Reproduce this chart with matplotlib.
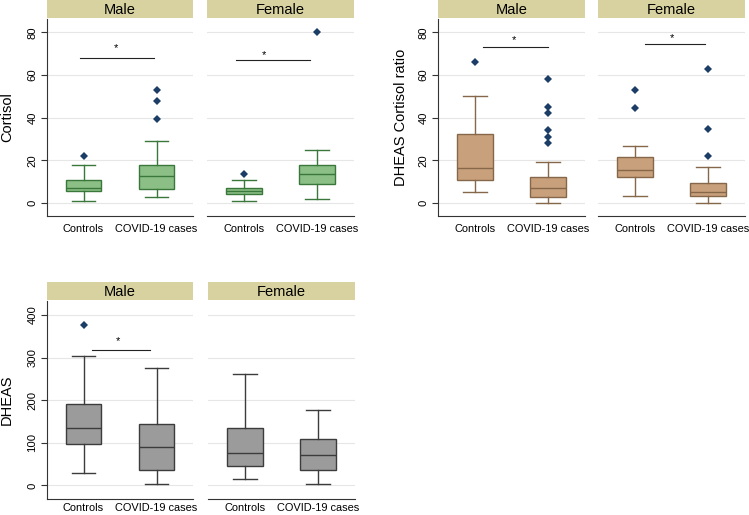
import matplotlib
matplotlib.use("Agg")
import matplotlib.pyplot as plt

plt.rcParams['font.family'] = ['Liberation Sans', 'DejaVu Sans']

groups = ["Controls", "COVID-19 cases"]
sexes = ["Male", "Female"]

# box stats: (whislo, q1, med, q3, whishi, outliers)
cortisol = {
    "Male": [(0.8, 5.6, 7.2, 10.6, 18.0, [22.2]),
             (2.8, 6.6, 12.5, 17.8, 29.1, [39.2, 47.7, 53.0])],
    "Female": [(0.8, 4.1, 5.5, 6.9, 10.6, [13.4]),
               (1.9, 9.1, 13.4, 17.8, 24.8, [80.0])],
}
ratio = {
    "Male": [(5.0, 10.8, 16.6, 32.3, 50.3, [65.9]),
             (0.0, 2.8, 6.9, 12.3, 19.4, [28.0, 31.1, 34.1, 42.0, 45.2, 58.0])],
    "Female": [(3.1, 12.0, 15.5, 21.6, 26.6, [44.7, 53.0]),
               (0.0, 3.1, 5.3, 9.5, 17.0, [22.2, 34.7, 62.7])],
}
dheas = {
    "Male": [(28, 97.5, 134, 192, 304, [376]),
             (2.3, 36, 90.4, 143.5, 275, [])],
    "Female": [(14.8, 46, 77.2, 134, 260.4, []),
               (2.3, 36, 71.7, 110, 177, [])],
}
# significance bars: (x0, x1, y, star x, star y)
sig_cortisol = {"Male": (0.95, 1.96, 67.8, 1.45, 72.5),
                "Female": (0.9, 1.9, 67.3, 1.28, 69.5)}
sig_ratio = {"Male": (1.11, 2.0, 73.3, 1.53, 76.5),
             "Female": (1.14, 1.96, 74.7, 1.5, 77.5)}
sig_dheas = {"Male": (1.12, 1.91, 319, 1.47, 340)}

W, H = 749, 515
fig = plt.figure(figsize=(W / 100, H / 100), dpi=100)

strip_col = "#d8d2a0"
marker_col = "#1c3d66"


def px_axes(x0, x1, y0, y1):
    return fig.add_axes([x0 / W, 1 - y1 / H, (x1 - x0) / W, (y1 - y0) / H])


def panel(x0, x1, ytop, ybot, data, sig, ylim, yticks, fill, edge, ylabel,
          first, label_x, xpad):
    strip = px_axes(x0, x1, ytop - 19, ytop - 1)
    strip.set_facecolor(strip_col)
    strip.set_xticks([])
    strip.set_yticks([])
    for s in strip.spines.values():
        s.set_visible(False)
    strip.text(0.5, 0.42, data[0], ha="center", va="center", fontsize=10.5,
               transform=strip.transAxes)

    ax = px_axes(x0, x1, ytop, ybot)
    stats = []
    for g, (lo, q1, med, q3, hi, fl) in zip(groups, data[1]):
        stats.append(dict(whislo=lo, q1=q1, med=med, q3=q3, whishi=hi,
                          fliers=fl, label=g))
    ax.bxp(stats, positions=[1, 2], widths=0.49, capwidths=0.32,
           patch_artist=True,
           boxprops=dict(facecolor=fill, edgecolor=edge, linewidth=1.0),
           medianprops=dict(color=edge, linewidth=1.0),
           whiskerprops=dict(color=edge, linewidth=1.0),
           capprops=dict(color=edge, linewidth=1.0),
           flierprops=dict(marker="D", markersize=3.6, markeredgewidth=0,
                           markerfacecolor=marker_col))
    if sig is not None:
        xa, xb, yb, xs, ys = sig
        ax.plot([xa, xb], [yb, yb], color="#222222", lw=0.8)
        ax.text(xs, ys, "*", ha="center", va="center", fontsize=8)
    ax.set_xlim(0.5, 2.5)
    ax.set_ylim(*ylim)
    ax.set_yticks(yticks)
    ax.yaxis.grid(True, color="#e6e6e6", lw=0.8)
    ax.set_axisbelow(True)
    ax.tick_params(axis="x", length=0, labelsize=7.9, pad=xpad)
    ax.spines["top"].set_visible(False)
    ax.spines["right"].set_visible(False)
    ax.spines["bottom"].set_color("#333333")
    if first:
        ax.tick_params(axis="y", labelsize=8.1, length=4, color="#333333",
                       labelrotation=90, pad=3)
        for lab in ax.get_yticklabels():
            lab.set_va("center")
        ax.spines["left"].set_color("#333333")
        ax.set_ylabel(ylabel, fontsize=10.5)
        # label_x: right edge of the rotated label, in pixels
        ax.yaxis.set_label_coords((label_x - x0) / (x1 - x0), 0.5)
    else:
        ax.spines["left"].set_visible(False)
        ax.tick_params(axis="y", length=0, labelleft=False)
    return ax


green = ("#8cbf86", "#3a773a")
tan = ("#c9a07c", "#86674a")
gray = ("#9b9b9b", "#3c3c3c")

cols_left = [(47, 193), (207, 354)]
cols_right = [(438, 585), (598, 745)]
cols_bottom = [(47, 193), (208, 355)]

for i, sex in enumerate(sexes):
    x0, x1 = cols_left[i]
    panel(x0, x1, 19, 216, (sex, cortisol[sex]), sig_cortisol.get(sex),
          (-6.1, 86.3), [0, 20, 40, 60, 80], *green, "Cortisol", i == 0, 14, 6)
    x0, x1 = cols_right[i]
    panel(x0, x1, 19, 216, (sex, ratio[sex]), sig_ratio.get(sex),
          (-6.1, 86.3), [0, 20, 40, 60, 80], *tan, "DHEAS Cortisol ratio",
          i == 0, 408, 6)
    x0, x1 = cols_bottom[i]
    panel(x0, x1, 301, 499, (sex, dheas[sex]), sig_dheas.get(sex),
          (-32, 433), [0, 100, 200, 300, 400], *gray, "DHEAS", i == 0, 14, 3)

fig.savefig("out.png", dpi=100)
